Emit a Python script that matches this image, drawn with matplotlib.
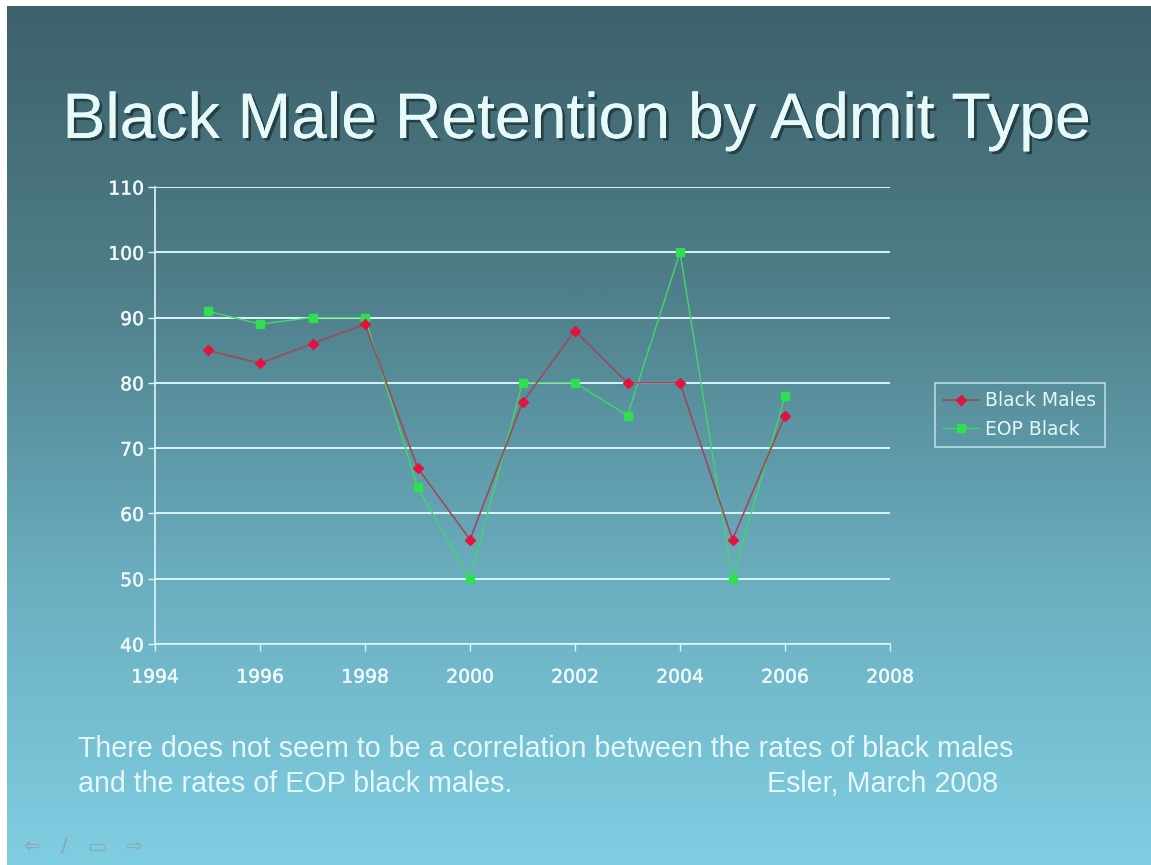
import numpy as np
import matplotlib.pyplot as plt
import matplotlib.patheffects as pe
from matplotlib.colors import LinearSegmentedColormap

plt.rcParams['font.family'] = ['Liberation Sans', 'DejaVu Sans']

years = [1995, 1996, 1997, 1998, 1999, 2000, 2001, 2002, 2003, 2004, 2005, 2006]
black_males = [85, 83, 86, 89, 67, 56, 77, 88, 80, 80, 56, 75]
eop_black = [91, 89, 90, 90, 64, 50, 80, 80, 75, 100, 50, 78]
x_ticks = list(range(1994, 2009, 2))
y_ticks = list(range(40, 111, 10))

title = "Black Male Retention by Admit Type"
note_lines = ["There does not seem to be a correlation between the rates of black males",
              "and the rates of EOP black males."]
credit = "Esler, March 2008"

W, H = 1151, 865
fig = plt.figure(figsize=(W / 100, H / 100), dpi=100)
fig.patch.set_facecolor('white')

# slide background gradient
bg = fig.add_axes([7 / W, 0, 1 - 7 / W, 1 - 6 / H])
bg.set_axis_off()
cmap = LinearSegmentedColormap.from_list(
    'slide', ['#3d616a', '#4f7f8a', '#6aaebf', '#80cee2'])
grad = np.linspace(0, 1, 512).reshape(-1, 1)
bg.imshow(grad, aspect='auto', cmap=cmap, extent=[0, 1, 0, 1], origin='upper')
bg.set_xlim(0, 1)
bg.set_ylim(0, 1)

txt = '#e4f8fa'
fig.text(0.5 + 1 / W, 1 - 121 / H, title, ha='center', va='center', fontsize=46.3,
         color='#e6fafa',
         path_effects=[pe.withSimplePatchShadow(offset=(2, -2), shadow_rgbFace='#1e3438', alpha=0.8),
                       pe.Normal()])

chart_font = 'DejaVu Sans'
thick = [pe.withStroke(linewidth=0.3, foreground='#eef9fb')]

ax = fig.add_axes([155 / W, 1 - 644 / H, 735 / W, 457 / H])
ax.patch.set_alpha(0)
ax.plot(years, black_males, color='#9c4a5c', lw=1.2, marker='D', ms=5,
        mfc='#e0143c', mec='#e0143c', label='Black Males', zorder=3)
ax.plot(years, eop_black, color='#44d66a', lw=1.0, marker='s', ms=5.5,
        mfc='#2ee050', mec='#2ee050', label='EOP Black', zorder=2)

ax.set_xlim(1994, 2008)
ax.set_ylim(40, 110)
ax.set_xticks(x_ticks)
ax.set_yticks(y_ticks)
ax.grid(axis='y', color='#d8f4f8', lw=1.4)
ax.set_axisbelow(True)
for s in ['top', 'right']:
    ax.spines[s].set_visible(False)
for s in ['left', 'bottom']:
    ax.spines[s].set_color('#e0f6f8')
    ax.spines[s].set_linewidth(1.2)
ax.tick_params(colors='#e0f6f8', labelcolor='#eef9fb', labelsize=13.5,
               length=5, width=1)
ax.tick_params(axis='x', pad=12)
ax.tick_params(axis='y', pad=3)
for lab in ax.get_xticklabels() + ax.get_yticklabels():
    lab.set_family(chart_font)
    lab.set_path_effects(thick)

leg = ax.legend(loc='center left', bbox_to_anchor=(1.061, 0.501), frameon=True,
                prop={'family': chart_font, 'size': 13.5}, handlelength=1.9,
                handletextpad=0.35, borderpad=0.45, labelspacing=0.5,
                fancybox=False, borderaxespad=0)
leg.get_frame().set_facecolor('none')
leg.get_frame().set_edgecolor('#d0eef2')
leg.get_frame().set_linewidth(1.2)
for t in leg.get_texts():
    t.set_color(txt)

fig.text(78 / W, 1 - 749 / H, note_lines[0], ha='left', va='center', fontsize=20.6,
         color=txt)
fig.text(78 / W, 1 - 784 / H, note_lines[1], ha='left', va='center', fontsize=20.6,
         color=txt)
fig.text(767 / W, 1 - 784 / H, credit, ha='left', va='center', fontsize=20.6,
         color=txt)

# slide navigation icons
fig.text(24 / W, 1 - 847 / H, '\u21e6   \u2215   \u25ad   \u21e8', ha='left', va='center',
         fontsize=14, color='#8aaab4', family='DejaVu Sans', fontweight='bold')

fig.savefig('out.png', dpi=100)
